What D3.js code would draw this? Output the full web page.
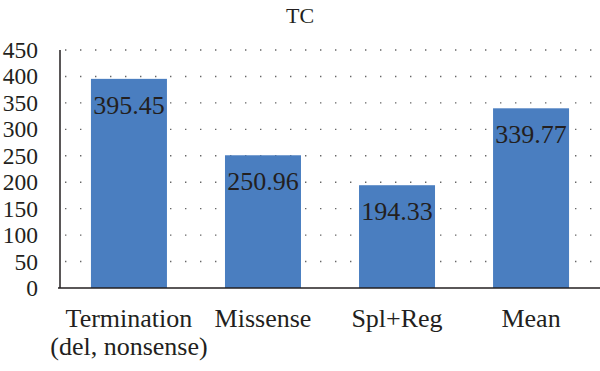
<!DOCTYPE html>
<html>
<head>
<meta charset="utf-8">
<script src="https://cdn.jsdelivr.net/npm/d3@7"></script>
<style>
  body { margin: 0; background: #fff; }
</style>
</head>
<body>
<script>
var categories = [['Termination', '(del, nonsense)'], ['Missense'], ['Spl+Reg'], ['Mean']];
var values = [395.45, 250.96, 194.33, 339.77];
var valueLabels = ['395.45', '250.96', '194.33', '339.77'];
var yTicks = [0, 50, 100, 150, 200, 250, 300, 350, 400, 450];
var title = 'TC';

var width = 600,
    height = 371;
var plotLeft = 60, plotRight = 598, plotTop = 50, plotBottom = 288;
var serif = '"Liberation Serif", "Times New Roman", Times, serif';
var ink = '#231f20';

var svg = d3.select('body').append('svg').attr('width', width).attr('height', height)
    .attr('font-family', serif);

var x = d3.scaleBand()
    .domain(d3.range(values.length))
    .range([plotLeft + 2, plotRight])
    .paddingInner(0.433)
    .paddingOuter(0.216);

var y = d3.scaleLinear().domain([0, 450]).range([plotBottom, plotTop]);

// 网格线 (dotted)
svg.append('g')
    .selectAll('line')
    .data(yTicks.filter(function (d) { return d > 0; }))
    .enter()
    .append('line')
    .attr('x1', plotLeft + 5).attr('x2', plotRight)
    .attr('y1', function (d) { return y(d); })
    .attr('y2', function (d) { return y(d); })
    .style('stroke', '#666')
    .style('stroke-width', 1.4)
    .style('stroke-dasharray', '1.4,13.6');

// bars
svg.append('g')
    .selectAll('rect')
    .data(values)
    .enter()
    .append('rect')
    .attr('x', function (d, i) { return x(i); })
    .attr('y', function (d) { return y(d); })
    .attr('width', x.bandwidth())
    .attr('height', function (d) { return plotBottom - y(d); })
    .style('fill', '#4a7ec0');

// value labels
svg.append('g')
    .selectAll('text')
    .data(values)
    .enter()
    .append('text')
    .attr('x', function (d, i) { return x(i) + x.bandwidth() / 2; })
    .attr('y', function (d) { return y(d) + 35; })
    .attr('text-anchor', 'middle')
    .attr('font-family', serif)
    .attr('font-size', 26)
    .attr('fill', ink)
    .text(function (d, i) { return valueLabels[i]; });

// y axis
var yAxis = d3.axisLeft(y).tickValues(yTicks).tickSize(0).tickPadding(22);
var gy = svg.append('g').attr('transform', 'translate(' + plotLeft + ',0)').call(yAxis);
gy.attr('font-family', serif).attr('font-size', 23.5);
gy.select('.domain').remove();
gy.selectAll('text').attr('fill', ink);

svg.append('line')
    .attr('x1', plotLeft).attr('x2', plotLeft)
    .attr('y1', plotTop).attr('y2', plotBottom)
    .style('stroke', ink).style('stroke-width', 1.5);
svg.append('line')
    .attr('x1', plotLeft - 2).attr('x2', plotRight + 2)
    .attr('y1', plotBottom).attr('y2', plotBottom)
    .style('stroke', ink).style('stroke-width', 1.5);

// category labels
var cat = svg.append('g')
    .selectAll('text')
    .data(categories)
    .enter()
    .append('text')
    .attr('text-anchor', 'middle')
    .attr('font-family', serif)
    .attr('font-size', 26)
    .attr('fill', ink);
cat.selectAll('tspan')
    .data(function (d, i) { return d.map(function (t) { return { t: t, i: i }; }); })
    .enter()
    .append('tspan')
    .attr('x', function (d) { return x(d.i) + x.bandwidth() / 2; })
    .attr('y', function (d, j) { return 327 + j * 28; })
    .text(function (d) { return d.t; });

// title
svg.append('text')
    .attr('x', 300).attr('y', 23)
    .attr('text-anchor', 'middle')
    .attr('font-family', serif)
    .attr('font-size', 22)
    .attr('fill', ink)
    .text(title);
</script>
</body>
</html>
